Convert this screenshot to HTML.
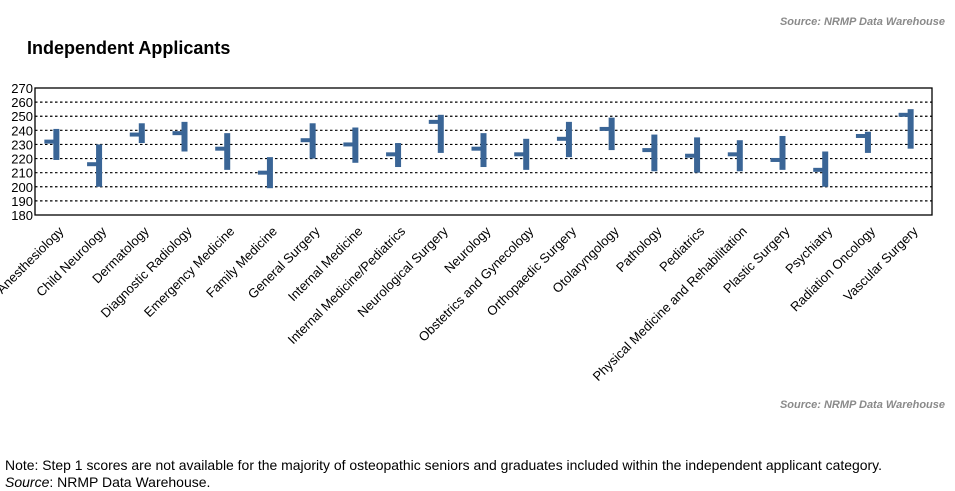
<!DOCTYPE html>
<html><head><meta charset="utf-8"><style>
body{margin:0;background:#fff;width:955px;height:491px;overflow:hidden}
svg{display:block;font-family:"Liberation Sans",Arial,sans-serif}
</style></head><body>
<svg width="955" height="491" viewBox="0 0 955 491" id="s">
<text x="945" y="25" text-anchor="end" font-size="11" font-weight="bold" font-style="italic" fill="#8a8a8a">Source: NRMP Data Warehouse</text>
<text x="27" y="54" font-size="18" font-weight="bold" fill="#000">Independent Applicants</text>
<g id="grid"></g>
<rect x="35" y="88" width="897" height="127" fill="none" stroke="#000" stroke-width="1.3"/>
<g id="yl" font-size="13" text-anchor="end" fill="#000"></g>
<g id="bars" fill="#3a6596"></g>
<g id="xl" font-size="13" text-anchor="end" fill="#000"></g>
<text x="945" y="408" text-anchor="end" font-size="11" font-weight="bold" font-style="italic" fill="#8a8a8a">Source: NRMP Data Warehouse</text>
<text x="5" y="470" font-size="14" fill="#000" textLength="877" lengthAdjust="spacingAndGlyphs">Note: Step 1 scores are not available for the majority of osteopathic seniors and graduates included within the independent applicant category.</text>
<text x="5" y="487" font-size="14" fill="#000"><tspan font-style="italic">Source</tspan>: NRMP Data Warehouse.</text>
</svg>
<script>
var ns="http://www.w3.org/2000/svg";
function el(t,a,p,txt){var e=document.createElementNS(ns,t);for(var k in a)e.setAttribute(k,a[k]);if(txt)e.textContent=txt;document.getElementById(p).appendChild(e);}
function Y(v){return 215-(v-180)*127/90;}
for(var v=180;v<=270;v+=10){ if(v>180&&v<270) el("line",{x1:35,x2:932,y1:Y(v),y2:Y(v),stroke:"#000","stroke-width":1.2,"stroke-dasharray":"2.5,2.5"},"grid");
 el("text",{x:33,y:Y(v)+5},"yl",String(v));}
var d=[["Anesthesiology",241,219,232],["Child Neurology",230,200,216],["Dermatology",245,231,237],["Diagnostic Radiology",246,225,238],["Emergency Medicine",238,212,227],["Family Medicine",221,199,210],["General Surgery",245,220,233],["Internal Medicine",242,217,230],["Internal Medicine/Pediatrics",231,214,223],["Neurological Surgery",251,224,246],["Neurology",238,214,227],["Obstetrics and Gynecology",234,212,223],["Orthopaedic Surgery",246,221,234],["Otolaryngology",249,226,241],["Pathology",237,211,226],["Pediatrics",235,210,222],["Physical Medicine and Rehabilitation",233,211,223],["Plastic Surgery",236,212,219],["Psychiatry",225,200,212],["Radiation Oncology",239,224,236],["Vascular Surgery",255,227,251]];
var w=897/21;
d.forEach(function(r,i){var c=35+w*(i+0.5);
 el("rect",{x:c-3,y:Y(r[1]),width:6,height:Y(r[2])-Y(r[1])},"bars");
 el("rect",{x:c-12,y:Y(r[3])-2,width:10,height:4},"bars");
 el("text",{x:c+8,y:232,transform:"rotate(-45 "+(c+8)+" 232)"},"xl",r[0]);
});
</script>
</body></html>
